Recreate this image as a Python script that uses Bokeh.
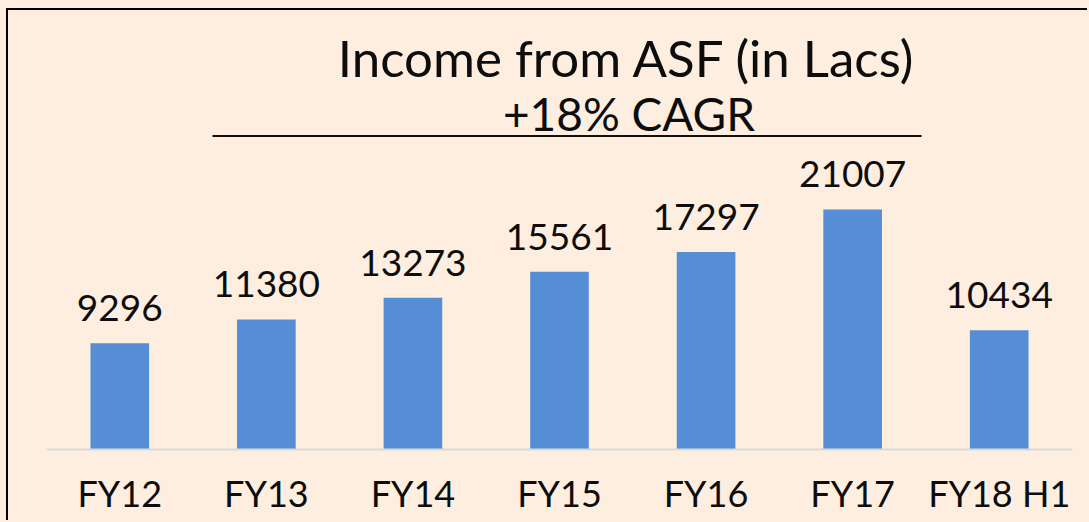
from bokeh.plotting import figure
from bokeh.models import FactorRange, Range1d, Label, BoxAnnotation, ColumnDataSource
from bokeh.core.properties import value
from bokeh.embed import file_html
from bokeh.resources import INLINE

categories = ["FY12", "FY13", "FY14", "FY15", "FY16", "FY17", "FY18 H1"]
income = [9296, 11380, 13273, 15561, 17297, 21007, 10434]
title_line1 = "Income from ASF (in Lacs)"
title_line2 = "+18% CAGR"

BG = "#FDEEE0"
BAR = "#558ED5"
FONT = "Lato"

src = ColumnDataSource(dict(cat=categories, val=income, txt=[str(v) for v in income]))

# canvas sits at page (8, 10); the 2px black frame border is drawn by CSS at (6..7, 8..9)
p = figure(x_range=FactorRange(*categories, range_padding=0),
           y_range=Range1d(0, 38425),
           width=1081, height=512, output_backend="svg", toolbar_location=None,
           min_border_left=38, min_border_right=17, min_border_top=0, min_border_bottom=73,
           background_fill_color=BG, border_fill_color=BG, outline_line_color=None,
           styles={"margin-left": "6px", "margin-top": "8px",
                   "border-left": "2px solid #000000", "border-top": "2px solid #000000"})

p.vbar(x="cat", top="val", width=0.4, source=src, color=BAR, line_color=None)
p.text(x="cat", y="val", text="txt", source=src, text_align="center",
       text_baseline="alphabetic", y_offset=-35, text_font=value(FONT),
       text_font_size="37px", text_color="#0D0D0D")

p.xgrid.visible = False
p.ygrid.visible = False
p.yaxis.visible = False
ax = p.xaxis[0]
ax.axis_line_color = "#D9D9D9"
ax.axis_line_width = 2
ax.major_tick_line_color = None
ax.minor_tick_line_color = None
ax.major_tick_out = 0
ax.major_label_standoff = 21
ax.major_label_text_font = FONT
ax.major_label_text_font_size = "36px"
ax.major_label_text_color = "#0D0D0D"

p.add_layout(Label(x=3.9606, y=34310, text=title_line1, text_align="center",
                   text_baseline="alphabetic", text_font=FONT, text_font_size="51px",
                   text_color="#0D0D0D"))
p.add_layout(Label(x=3.974, y=29383, text=title_line2, text_align="center",
                   text_baseline="alphabetic", text_font=FONT, text_font_size="46px",
                   text_color="#0D0D0D"))
# underline under the title
p.add_layout(BoxAnnotation(left=1.1326, right=5.9698, bottom=27352, top=27527,
                           fill_color="#111111", fill_alpha=1, line_color=None))

html = file_html(p, INLINE)
html = html.replace("<head>", "<head><style>html,body{background-color:#FDEEE0;}</style>", 1)
open("out.html", "w").write(html)
